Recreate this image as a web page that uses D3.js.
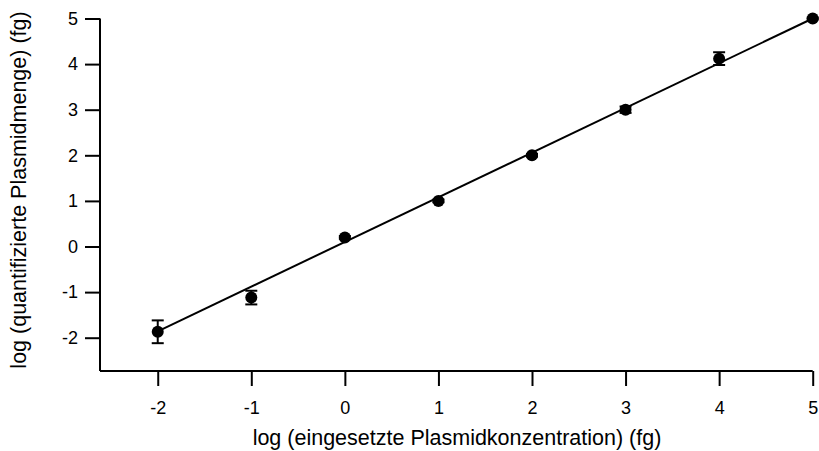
<!DOCTYPE html>
<html><head><meta charset="utf-8">
<script src="https://cdn.jsdelivr.net/npm/d3@7"></script>
<style>body{margin:0;background:#fff}svg{display:block}text{font-family:"Liberation Sans",Arial,sans-serif;fill:#000}</style>
</head><body><svg id="c" width="819" height="451"></svg>
<script>
const xValues = [-2, -1, 0, 1, 2, 3, 4, 5];
const yValues = [-1.87, -1.12, 0.2, 1.0, 2.0, 3.0, 4.12, 5.0];
const yErrors = [0.25, 0.15, 0.03, 0.03, 0.03, 0.07, 0.14, 0.02];
const fitLine = [[-2, -1.86], [5, 5.0]];
const xTicks = [-2, -1, 0, 1, 2, 3, 4, 5];
const yTicks = [-2, -1, 0, 1, 2, 3, 4, 5];
const xTitle = "log (eingesetzte Plasmidkonzentration) (fg)";
const yTitle = "log (quantifizierte Plasmidmenge) (fg)";

const svg = d3.select("#c");
const x = d3.scaleLinear().domain([-2.617, 5]).range([100, 812.7]);
const y = d3.scaleLinear().domain([-2.73, 5]).range([371, 18.5]);
const fmt = d => d < 0 ? "-" + Math.abs(d) : String(d);

const xAxis = svg.append("g").attr("transform","translate(0,371)")
  .call(d3.axisBottom(x).tickValues(xTicks).tickFormat(fmt).tickSize(15).tickPadding(15).tickSizeOuter(0));
const yAxis = svg.append("g").attr("transform","translate(100,0)")
  .call(d3.axisLeft(y).tickValues(yTicks).tickFormat(fmt).tickSize(15).tickPadding(7).tickSizeOuter(0));
[xAxis,yAxis].forEach(a=>{
  a.attr("font-size",18).attr("font-family","'Liberation Sans',Arial,sans-serif");
  a.selectAll("path,line").attr("stroke","#000").attr("stroke-width",2);
  a.selectAll("text").attr("fill","#000");
});
xAxis.select(".domain").attr("d", `M100,0H${x(5)}`);
yAxis.select(".domain").attr("d", `M0,${y(5)}V371`);

svg.append("text").attr("x",457).attr("y",445).attr("text-anchor","middle").attr("font-size",21.5).text(xTitle);
svg.append("text").attr("transform","translate(26,190) rotate(-90)").attr("text-anchor","middle").attr("font-size",21.5).text(yTitle);

svg.append("line")
  .attr("x1",x(fitLine[0][0])).attr("y1",y(fitLine[0][1]))
  .attr("x2",x(fitLine[1][0])).attr("y2",y(fitLine[1][1]))
  .attr("stroke","#000").attr("stroke-width",2);

const data = xValues.map((v,i)=>({x:v,y:yValues[i],e:yErrors[i]}));
const eb = svg.append("g").attr("stroke","#000").attr("stroke-width",2);
data.forEach(d=>{
  const cx=x(d.x), t=y(d.y+d.e), b=y(d.y-d.e);
  eb.append("line").attr("x1",cx).attr("x2",cx).attr("y1",t).attr("y2",b);
  eb.append("line").attr("x1",cx-6).attr("x2",cx+6).attr("y1",t).attr("y2",t);
  eb.append("line").attr("x1",cx-6).attr("x2",cx+6).attr("y1",b).attr("y2",b);
});
svg.append("g").selectAll("circle").data(data).join("circle")
  .attr("cx",d=>x(d.x)).attr("cy",d=>y(d.y)).attr("r",6).attr("fill","#000");
</script></body></html>
